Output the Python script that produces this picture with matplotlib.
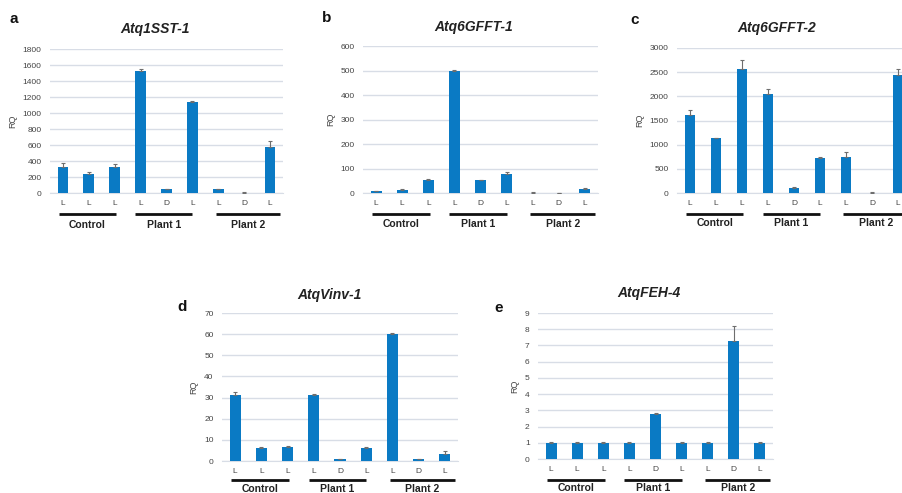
import numpy as np
import matplotlib
matplotlib.use('Agg')
import matplotlib.pyplot as plt
from matplotlib.transforms import blended_transform_factory, offset_copy

plt.rcParams.update({
    'font.family': ['Liberation Sans', 'DejaVu Sans'],
    'font.size': 6,
})

# ---- data ----
cat_labels = ['L', 'L', 'L', 'L', 'D', 'L', 'L', 'D', 'L']
groups = ['Control', 'Plant 1', 'Plant 2']

sst1 = [330, 240, 325, 1530, 50, 1140, 45, 5, 575]
sst1_err = [45, 20, 35, 25, 5, 10, 10, 3, 80]

gfft1 = [8, 13, 55, 500, 52, 77, 2, 0, 15]
gfft1_err = [2, 3, 3, 2, 3, 8, 1, 0, 5]

gfft2 = [1610, 1130, 2570, 2055, 105, 725, 740, 10, 2440]
gfft2_err = [100, 15, 190, 90, 10, 20, 110, 3, 130]

vinv1 = [31.2, 6.2, 6.6, 31.3, 0.9, 6.3, 60.0, 0.8, 3.2]
vinv1_err = [1.3, 0.3, 0.3, 0.5, 0.1, 0.4, 0.6, 0.1, 1.3]

feh4 = [1.0, 1.0, 1.0, 1.0, 2.8, 1.0, 1.0, 7.25, 1.0]
feh4_err = [0.02, 0.02, 0.02, 0.02, 0.05, 0.02, 0.02, 0.95, 0.02]

BAR = '#0a7ac4'
GRID = '#d8dde6'

W, H = 902, 493
fig = plt.figure(figsize=(W / 100, H / 100), dpi=100)


def px_axes(left, right, top, bottom):
    return fig.add_axes([left / W, 1 - bottom / H, (right - left) / W, (bottom - top) / H])


def panel(ax, vals, errs, ymax, step, title, title_xy, letter, letter_xy,
          line_off=21, text_off=31):
    x = np.arange(len(vals))
    ax.bar(x, vals, width=0.42, color=BAR, zorder=3)
    ax.errorbar(x, vals, yerr=[np.zeros(len(errs)), errs], fmt='none',
                ecolor='#6e6e6e', elinewidth=0.8, capsize=1.5, capthick=0.8, zorder=4)
    ax.set_xlim(-0.5, len(vals) - 0.5)
    ax.set_ylim(0, ymax)
    ax.set_yticks(np.arange(0, ymax + step / 2, step))
    ax.yaxis.grid(True, color=GRID, linewidth=1.0, zorder=0)
    for s in ['top', 'right', 'left']:
        ax.spines[s].set_visible(False)
    ax.spines['bottom'].set_color(GRID)
    ax.set_xticks(x, cat_labels)
    ax.tick_params(axis='both', length=0, labelsize=6, labelcolor='#444444')
    ax.tick_params(axis='x', pad=5)
    ax.tick_params(axis='y', pad=6)
    ax.set_ylabel('RQ', fontsize=6.5, color='#444444', labelpad=4)

    trans = blended_transform_factory(ax.transData, ax.transAxes)
    line_t = offset_copy(trans, fig=fig, y=-line_off, units='dots')
    text_t = offset_copy(trans, fig=fig, y=-text_off, units='dots')
    spans = [(-0.15, 2.05), (2.8, 5.0), (5.9, 8.4)]
    for (a, b), g in zip(spans, groups):
        ax.plot([a, b], [0, 0], color='#111111', linewidth=2, transform=line_t,
                clip_on=False, solid_capstyle='butt')
        ax.text((a + b) / 2, 0, g, transform=text_t, ha='center', va='center',
                fontsize=7.5, fontweight='bold', color='#222222', clip_on=False)

    fig.text(title_xy[0] / W, 1 - title_xy[1] / H, title,
             ha='center', va='center', fontsize=10, fontweight='bold', style='italic',
             color='#222222')
    fig.text(letter_xy[0] / W, 1 - letter_xy[1] / H, letter, ha='center', va='center',
             fontsize=11, fontweight='bold', color='#111111')


ax_a = px_axes(50, 283, 49, 193)
panel(ax_a, sst1, sst1_err, 1800, 200, 'Atq1SST-1', (155, 29), 'a', (14, 19), 21, 32)

ax_b = px_axes(363, 598, 46, 193)
panel(ax_b, gfft1, gfft1_err, 600, 100, 'Atq6GFFT-1', (474, 27), 'b', (327, 18), 21, 31)

ax_c = px_axes(677, 911, 48, 193)
panel(ax_c, gfft2, gfft2_err, 3000, 500, 'Atq6GFFT-2', (777, 28), 'c', (635, 20), 21, 30)

ax_d = px_axes(222, 458, 313, 461)
panel(ax_d, vinv1, vinv1_err, 70, 10, 'AtqVinv-1', (329, 295), 'd', (182, 307), 19, 28)

ax_e = px_axes(538, 773, 313, 459)
panel(ax_e, feh4, feh4_err, 9, 1, 'AtqFEH-4', (649, 293), 'e', (499, 308), 21, 29)

fig.savefig('out.png', dpi=100)
